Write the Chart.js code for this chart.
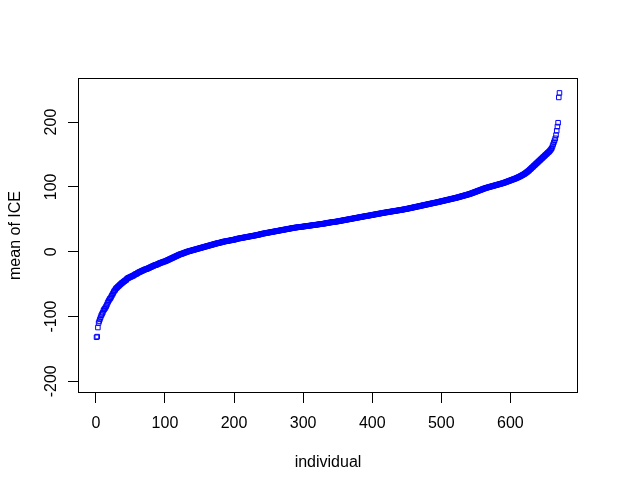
<!DOCTYPE html>
<html>
<head>
<meta charset="utf-8">
<script src="https://cdn.jsdelivr.net/npm/chart.js@4"></script>
<style>
  html, body { margin: 0; padding: 0; background: #fff; }
  #wrap { width: 619px; height: 491px; }
</style>
</head>
<body>
<div id="wrap"><canvas id="chart_div" width="619" height="491"></canvas></div>
<script>
// sorted mean of ICE, one value per individual
var meanICE = [
  -132,-131,-117,-110,-107,-104,-101,-98,-96,-94,
  -91,-89,-88,-86,-84,-82,-79,-77,-75,-73,
  -72,-70,-68,-66,-64,-62,-60,-59,-57,-56,
  -55,-54,-53,-52,-51,-50,-49,-48,-47.5,-46.5,
  -45.5,-45,-44,-43.5,-42,-41,-40.5,-40,-39.5,-39,
  -38.5,-38,-37.5,-37,-36.5,-35.5,-35,-34.5,-34,-33.5,
  -32.5,-32,-31.5,-31,-30.5,-30,-29.5,-29,-28.5,-28,
  -27.5,-27,-27,-26.5,-26,-25.5,-25,-24.5,-24,-23.5,
  -23,-22.5,-22,-21.5,-21,-20.5,-20.5,-20,-19.5,-19,
  -18.5,-18,-17.5,-17,-16.8,-16.5,-16,-15.5,-15.2,-15,
  -14.5,-14,-13.5,-13,-12.5,-12,-11.5,-11,-10.5,-10,
  -9.5,-9,-8.5,-8,-7.5,-7,-6.5,-6,-5.5,-5,
  -4.5,-4,-3.8,-3.5,-3,-2.6,-2.2,-1.8,-1.4,-1,
  -0.6,-0.2,0.2,0.5,0.8,1.1,1.4,1.7,2,2.3,
  2.6,2.9,3.2,3.5,3.8,4.1,4.4,4.7,5,5.3,
  5.6,5.9,6.2,6.5,6.8,7.1,7.4,7.7,8,8.3,
  8.6,8.9,9.2,9.5,9.8,10.1,10.4,10.7,11,11.3,
  11.6,11.9,12.2,12.5,12.8,13.1,13.4,13.6,13.8,14,
  14.3,14.6,14.9,15.2,15.5,15.7,15.9,16.1,16.3,16.5,
  16.7,16.9,17.1,17.3,17.5,17.7,17.9,18.1,18.3,18.5,
  18.8,19.1,19.4,19.7,20,20.2,20.4,20.6,20.8,21,
  21.2,21.4,21.6,21.8,22,22.2,22.4,22.6,22.8,23,
  23.2,23.4,23.6,23.8,24,24.2,24.4,24.6,24.8,25,
  25.2,25.4,25.6,25.8,26,26.3,26.6,26.9,27.2,27.5,
  27.7,27.9,28.1,28.3,28.5,28.7,28.9,29.1,29.3,29.5,
  29.7,29.9,30.1,30.3,30.5,30.7,30.9,31.1,31.3,31.5,
  31.7,31.9,32.1,32.3,32.5,32.7,32.9,33.1,33.3,33.5,
  33.7,33.9,34.1,34.3,34.5,34.7,34.9,35.1,35.3,35.5,
  35.7,35.9,36.1,36.3,36.5,36.7,36.9,37.1,37.2,37.4,
  37.5,37.7,37.8,38,38.1,38.3,38.4,38.5,38.6,38.8,
  38.9,39.1,39.2,39.4,39.5,39.7,39.8,40,40.1,40.3,
  40.4,40.6,40.7,40.9,41,41.2,41.3,41.5,41.6,41.8,
  41.9,42.1,42.2,42.4,42.5,42.7,42.8,43,43.1,43.3,
  43.5,43.7,43.9,44.1,44.3,44.5,44.7,44.9,45,45.2,
  45.4,45.5,45.7,45.8,46,46.1,46.3,46.4,46.6,46.8,
  47,47.2,47.4,47.6,47.8,48,48.2,48.4,48.6,48.8,
  49,49.2,49.4,49.6,49.8,50,50.2,50.4,50.6,50.8,
  51,51.2,51.4,51.6,51.8,52,52.2,52.4,52.6,52.8,
  53,53.2,53.4,53.6,53.8,54,54.2,54.4,54.6,54.8,
  54.9,55.1,55.3,55.5,55.7,55.9,56.1,56.3,56.5,56.7,
  56.9,57.1,57.3,57.5,57.7,57.9,58.1,58.3,58.5,58.7,
  58.9,59.1,59.3,59.5,59.7,59.9,60.1,60.3,60.4,60.6,
  60.8,61,61.2,61.3,61.5,61.7,61.9,62,62.2,62.4,
  62.6,62.7,62.9,63.1,63.3,63.4,63.6,63.8,64,64.1,
  64.3,64.5,64.7,64.9,65.1,65.3,65.5,65.7,65.9,66.1,
  66.3,66.5,66.8,67,67.2,67.5,67.7,67.9,68.2,68.4,
  68.6,68.9,69.1,69.3,69.6,69.8,70,70.3,70.5,70.7,
  71,71.2,71.4,71.7,71.9,72.1,72.4,72.6,72.8,73.1,
  73.3,73.5,73.8,74,74.2,74.5,74.7,74.9,75.2,75.4,
  75.6,75.8,76,76.3,76.5,76.8,77,77.3,77.5,77.8,
  78,78.3,78.5,78.8,79,79.3,79.5,79.8,80,80.3,
  80.5,80.8,81,81.3,81.5,81.8,82,82.3,82.5,82.8,
  83,83.3,83.6,83.9,84.2,84.5,84.8,85.1,85.4,85.7,
  86,86.3,86.6,86.9,87.2,87.5,87.8,88.1,88.4,88.7,
  89,89.4,89.8,90.2,90.6,91,91.4,91.8,92.2,92.6,
  93,93.4,93.8,94.2,94.6,95,95.4,95.8,96.2,96.6,
  97,97.4,97.8,98.2,98.5,98.8,99.1,99.4,99.7,100,
  100.3,100.6,100.9,101.2,101.5,101.8,102.1,102.4,102.7,103,
  103.3,103.6,103.9,104.2,104.5,104.8,105.1,105.4,105.7,106,
  106.4,106.8,107.2,107.6,108,108.4,108.8,109.2,109.6,110,
  110.4,110.8,111.2,111.6,112,112.4,112.8,113.2,113.7,114.2,
  114.7,115.2,115.7,116.2,116.8,117.4,118,118.6,119.2,119.8,
  120.5,121.3,122.1,122.9,123.7,124.5,125.5,126.5,127.5,128.5,
  129.5,130.5,131.5,132.5,133.5,134.5,135.5,136.5,137.5,138.5,
  139.5,140.5,141.5,142.5,143.5,144.5,145.5,146.5,147.5,148.5,
  149.5,150.5,151.5,152.5,153.5,154.5,155.5,157,158.5,160,
  163,166,169,172,175,180,186.5,193,199,238,
  245
];

var xTicks = [0, 100, 200, 300, 400, 500, 600];
var yTicks = [-200, -100, 0, 100, 200];

var FONT = "'Liberation Sans', Arial, sans-serif";

var points = [];
for (var i = 0; i < meanICE.length; i++) {
    points.push({x: i + 1, y: meanICE[i]});
}

// box around the plot + rotated y labels like R
var rBox = {
    id: 'rBox',
    afterDraw: function (chart) {
        var ctx = chart.ctx;
        var a = chart.chartArea;
        var yScale = chart.scales.y;
        ctx.save();
        ctx.strokeStyle = '#000';
        ctx.lineWidth = 1;
        var l = Math.round(a.left) + 0.5, t = Math.round(a.top) + 0.5;
        var r = Math.round(a.right) - 0.5, b = Math.round(a.bottom) - 0.5;
        ctx.strokeRect(l, t, r - l, b - t);

        ctx.fillStyle = '#000';
        ctx.font = '16px ' + FONT;
        ctx.textAlign = 'center';
        ctx.textBaseline = 'alphabetic';
        for (var k = 0; k < yTicks.length; k++) {
            var py = yScale.getPixelForValue(yTicks[k]);
            ctx.save();
            ctx.translate(55.5, py);
            ctx.rotate(-Math.PI / 2);
            ctx.fillText(String(yTicks[k]), 0, 0);
            ctx.restore();
        }
        ctx.save();
        ctx.translate(19.5, (a.top + a.bottom) / 2);
        ctx.rotate(-Math.PI / 2);
        ctx.fillText('mean of ICE', 0, 0);
        ctx.restore();
        ctx.restore();
    }
};

var ctx = document.getElementById('chart_div').getContext('2d');
new Chart(ctx, {
    type: 'scatter',
    data: {
        datasets: [{
            data: points,
            pointStyle: 'rect',
            pointRadius: 3.2,
            pointBorderWidth: 1,
            borderColor: '#0000ff',
            backgroundColor: 'rgba(0,0,0,0)',
            pointHoverRadius: 3.2
        }]
    },
    options: {
        responsive: false,
        animation: false,
        events: [],
        layout: {padding: {top: 78, right: 41, left: 0, bottom: 0}},
        plugins: {legend: {display: false}, tooltip: {enabled: false}},
        scales: {
            x: {
                type: 'linear',
                min: -25.8, max: 697.8,
                afterBuildTicks: function (s) { s.ticks = xTicks.map(function (v) { return {value: v}; }); },
                afterFit: function (s) { s.height = 98; },
                grid: {drawOnChartArea: false, drawTicks: true, tickLength: 10, color: '#000', tickWidth: 1},
                border: {display: false},
                ticks: {color: '#000', font: {size: 16, family: FONT}, padding: 11, maxRotation: 0, autoSkip: false},
                title: {display: true, text: 'individual', color: '#000', font: {size: 16, family: FONT}, padding: {top: 0, bottom: 19}}
            },
            y: {
                type: 'linear',
                min: -218, max: 268,
                afterBuildTicks: function (s) { s.ticks = yTicks.map(function (v) { return {value: v}; }); },
                afterFit: function (s) { s.width = 78; },
                grid: {drawOnChartArea: false, drawTicks: true, tickLength: 10, color: '#000', tickWidth: 1},
                border: {display: false},
                ticks: {color: 'rgba(0,0,0,0)', font: {size: 16, family: FONT}}
            }
        }
    },
    plugins: [rBox]
});
</script>
</body>
</html>
